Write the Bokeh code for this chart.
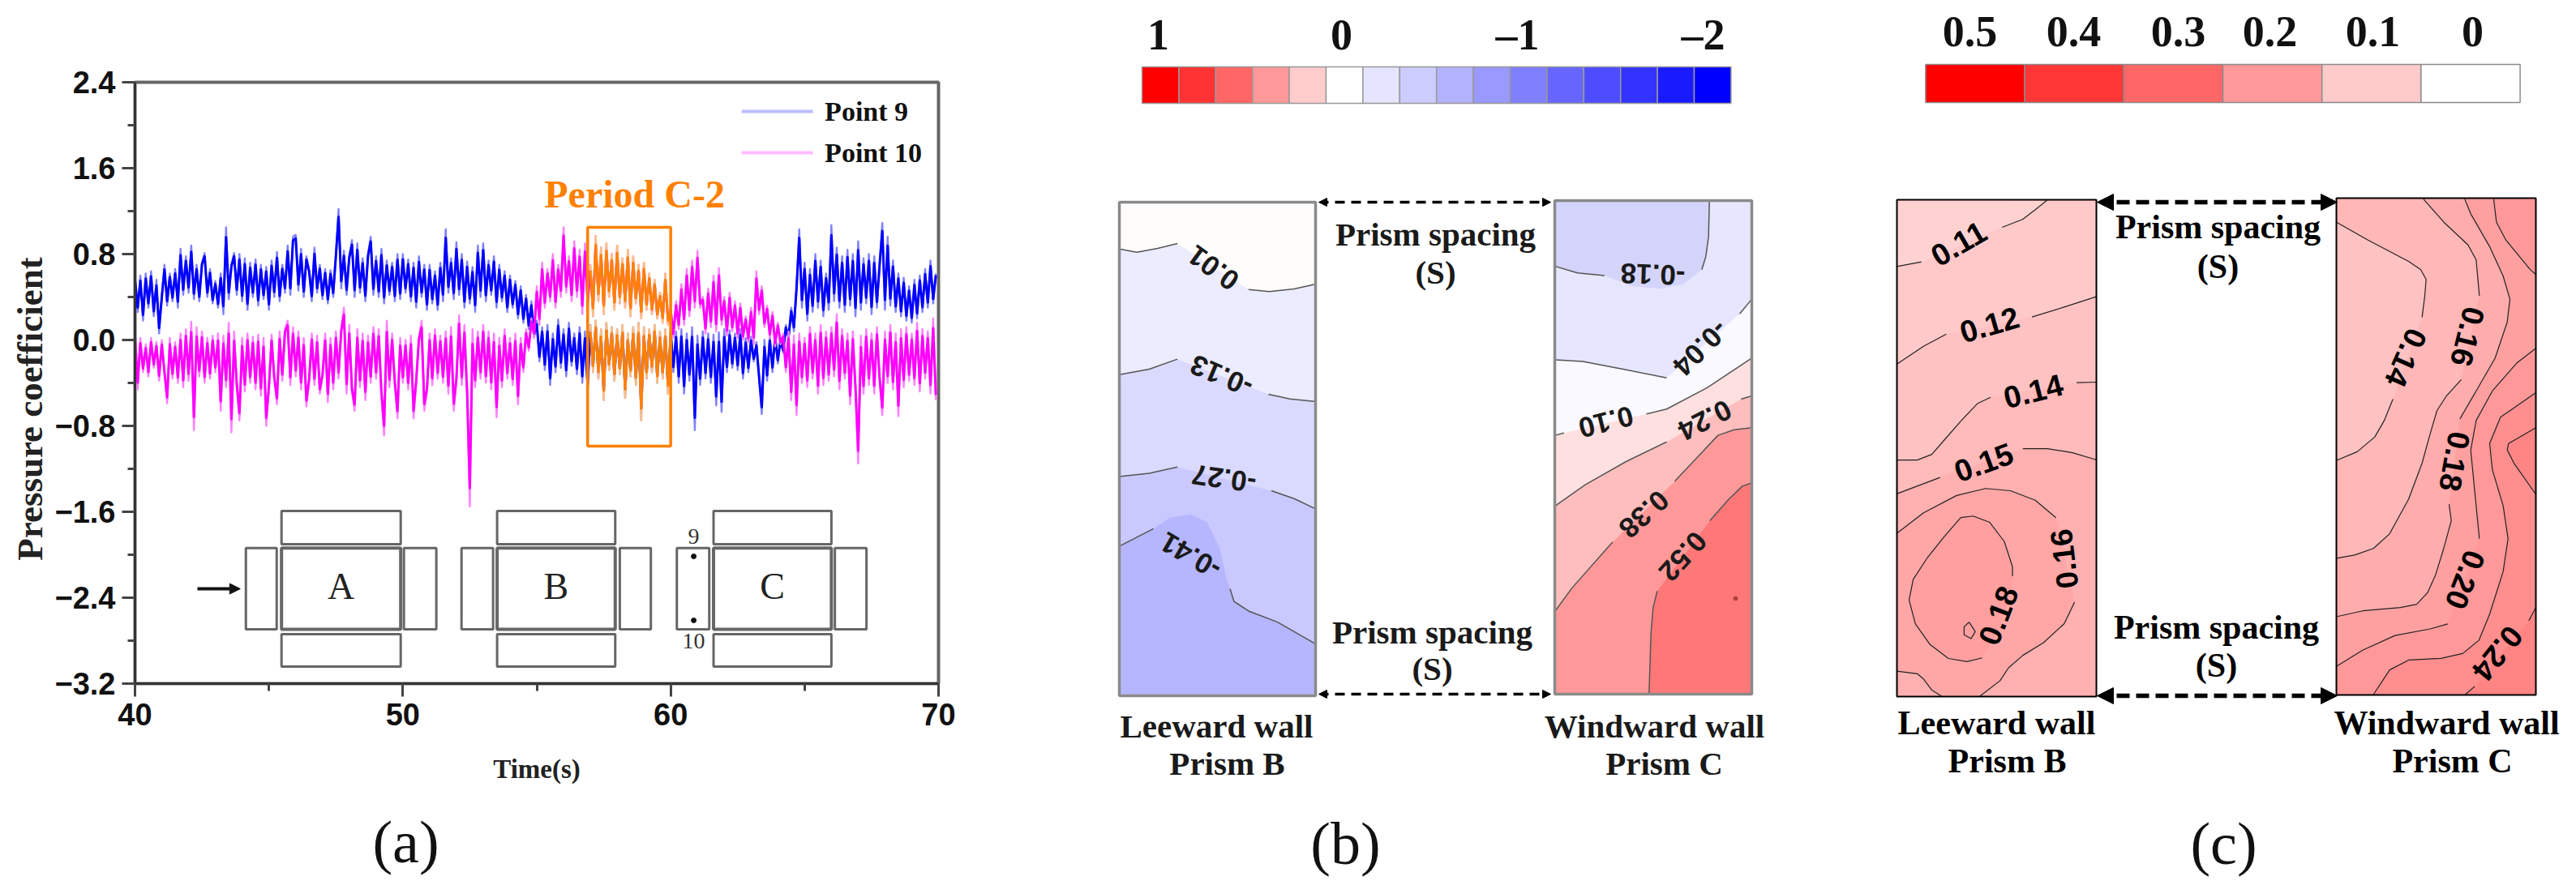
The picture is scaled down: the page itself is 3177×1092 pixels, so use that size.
from bokeh.plotting import figure
from bokeh.layouts import row, column
from bokeh.models import (Arrow, NormalHead, FixedTicker, Range1d)
from bokeh.core.properties import value
from bokeh.embed import file_html
from bokeh.resources import INLINE
import math

SERIF = "Liberation Serif"
SANS = "Liberation Sans"

# ------------------------- panel (a) data ----------------------------
point9 = [
 .58,.26,.60,.18,.62,.30,.64,.22,.56,.06,
 .40,.70,.32,.62,.36,.66,.30,.85,.42,.78,
 .44,.88,.38,.70,.36,.72,.81,.40,.66,.34,
 .55,.30,.62,.24,1.05,.38,.70,.81,.42,.80,
 .36,.76,.28,.72,.40,.75,.32,.70,.38,.68,
 .28,.74,.40,.82,.36,.70,.44,.88,.42,.96,
 .98,.46,.85,.40,.78,.65,.36,.86,.44,.70,
 .38,.66,.34,.65,.40,.78,1.22,.48,.83,.42,
 .78,.93,.40,.90,.44,.76,.36,.80,.96,.42,
 .78,.40,.85,.34,.74,.42,.72,.36,.80,.38,
 .80,.44,.75,.36,.72,.30,.78,.40,.70,.28,
 .70,.34,.64,.28,.72,.36,1.03,.44,.76,.38,
 .91,.42,.80,.30,.73,.34,.68,.26,.88,.40,
 .90,.36,.74,.42,.78,.30,.70,.36,.64,.26,
 .60,.30,.55,.20,.50,.16,.42,.10,.36,.02,
 .18,-.20,.12,-.28,.14,-.42,.06,-.30,.19,-.26,
 .10,-.34,.16,-.24,.06,-.32,.12,-.40,.08,-.49,
 .14,-.30,.18,-.36,.10,-.56,.16,-.28,.12,-.38,
 .10,-.32,.14,-.54,.06,-.34,.12,-.42,.16,-.75,
 .12,-.36,.10,-.30,.14,-.40,.08,-.36,.10,-.50,
 .12,-.30,.08,-.40,.10,-.50,.06,-.38,.12,-.84,
 .04,-.42,.08,-.36,.06,-.40,.05,-.61,.07,-.67,
 .10,-.30,.09,-.26,.06,-.28,.10,-.36,.02,-.30,
 .03,-.20,-.02,-.34,-.69,.00,-.38,.04,-.30,.06,
 -.22,.02,-.12,.14,.00,.30,.08,.48,1.03,.30,
 .72,.18,.66,.26,.80,.30,.74,.22,.62,.28,
 1.07,.36,.86,.30,.78,.26,.84,.32,.80,.22,
 .92,.28,.76,.34,.80,.24,.78,.30,.70,1.09,
 .28,.96,.32,.74,.26,.62,.22,.58,.18,.50,
 .16,.56,.20,.60,.26,.66,.30,.74,.34,.62,
]
point10 = [
 .06,-.46,.02,-.30,-.04,-.34,.02,-.26,-.02,-.38,
 .00,-.30,-.59,.02,-.36,-.02,-.40,.06,-.44,.10,
 -.38,.17,-.84,.12,-.34,.08,-.40,.02,-.36,.04,
 -.30,.06,-.66,.04,-.44,.16,-.86,.08,-.42,-.75,
 .02,-.48,.06,-.40,.03,-.46,.05,-.52,.02,-.80,
 -.44,.05,-.36,-.60,.08,-.38,.10,.18,-.42,.12,
 -.34,.08,-.46,.02,-.62,-.38,.06,-.42,.04,-.50,
 -.34,.06,-.58,.02,-.46,.08,-.36,.10,.30,-.50,
 .14,-.48,-.66,.10,-.44,.06,-.56,.04,-.40,.12,
 -.36,.10,-.50,-.89,.18,-.44,.06,-.40,-.73,.02,
 -.40,.00,-.46,.04,-.73,-.38,.02,.18,-.66,-.48,
 .06,-.42,.10,-.36,.04,-.40,.08,-.50,.12,-.66,
 -.38,.23,-.42,.14,-.46,-1.55,.10,-.44,.08,-.36,
 .14,-.40,.08,-.46,.06,-.72,.02,-.44,.10,-.36,
 .02,-.42,.06,-.60,.02,-.30,.10,-.10,.20,.02,
 .50,.14,.72,.30,.66,.36,.80,.30,.70,.40,
 1.05,.44,.78,.36,.92,.40,.84,.24,.90,.30,
 .70,.22,.97,.36,.86,.24,.90,.40,.80,.28,
 .88,.34,.76,.30,.84,.22,.78,.34,.70,.20,
 .72,.28,.62,.24,.56,.20,.44,.16,.62,.14,
 .30,.02,.36,.10,.52,.14,.66,.22,.74,.30,
 .83,.30,.40,.06,.48,.12,.60,.08,.67,.14,
 .40,.04,.44,.08,.36,.02,.34,.00,.22,-.02,
 .30,-.04,.64,.24,.50,.12,.32,.02,.26,-.06,
 .16,-.04,.06,-.30,.08,-.56,.04,-.70,.06,-.40,
 .02,-.44,.12,-.36,.06,-.50,.14,-.42,.08,-.38,
 .12,-.34,.24,-.46,.10,-.36,.06,-.60,.08,-.44,
 -1.15,.04,-.50,.10,-.42,.06,-.50,.12,-.36,-.70,
 .08,-.40,.14,-.46,.06,-.71,.10,-.44,.12,-.38,
 .06,-.42,.16,-.48,.10,-.36,.08,-.50,.20,-.56,
]
t_start = 40.0
t_step = 0.1
y_ticks = [2.4, 1.6, 0.8, 0.0, -0.8, -1.6, -2.4, -3.2]
y_tick_labels = ["2.4", "1.6", "0.8", "0.0", "\u22120.8", "\u22121.6", "\u22122.4", "\u22123.2"]
y_minor = [2.0, 1.2, 0.4, -0.4, -1.2, -2.0, -2.8]
x_ticks = [40, 50, 60, 70]
x_minor = [45, 55, 65]

period_box = (56.9, 60.0, -0.989, 1.049)

prisms = ["A", "B", "C"]
main_l = [45.47, 53.52, 61.60]
main_r = [49.92, 57.93, 66.00]
side1_l = [44.14, 52.19, 60.23]
side1_r = [45.29, 53.37, 61.44]
side2_l = [50.04, 58.10, 66.13]
side2_r = [51.25, 59.26, 67.31]

# ------------------------- colour bars -------------------------------
cb_b_colors = ["#ff0000","#ff3333","#ff6666","#ff9999","#ffcccc","#ffffff","#e5e5ff","#ccccff",
               "#b3b3ff","#9999ff","#8080ff","#6666ff","#4d4dff","#3333ff","#1a1aff","#0000ff"]
cb_b_labels = ["1", "0", "\u20131", "\u20132"]
cb_b_label_pos = [1428, 1654, 1871, 2100]
cb_c_colors = ["#ff0000","#ff3636","#ff6666","#ff9999","#ffcaca","#ffffff"]
cb_c_labels = ["0.5","0.4","0.3","0.2","0.1","0"]
cb_c_label_pos = [2429, 2557, 2686, 2799, 2926, 3049]

# ------------------------- contour traces --
def z4(p): return [(1320+x/1.96, y/3) for x, y in p]
def z5(p): return [(1320+x/1.96, 480+y/2.56) for x, y in p]
def z6(p): return [(2280+x/1.96, y/3) for x, y in p]
def z7(p): return [(2280+x/1.96, 480+y/2.56) for x, y in p]
def z11(p): return [(2870+x/3, 235+y/2.47) for x, y in p]
def z12(p): return [(1905+x/3, 235+y/2.47) for x, y in p]

wall_bl = (1380, 1622, 249, 858)
wall_bw = (1917, 2160, 247, 856)
wall_cl = (2339, 2585, 246, 859)
wall_cw = (2881, 3127, 244, 857)

bl_c1 = [z4([(118,920),(160,932),(210,918),(258,900)]), z4([(430,1070),(480,1078),(540,1068),(593,1050)])]
bl_c2 = [z4([(118,1385),(190,1365),(258,1328)]), z4([(478,1458),(530,1475),(593,1485)])]
bl_c3 = [z5([(118,275),(190,265),(258,245)]), z5([(485,320),(540,345),(593,378)])]
bl_c4 = [z5([(118,495),(200,440)]), z5([(385,630),(395,670),(430,700),(500,735),(593,805)])]
bl_c4_hidden = z5([(240,405),(290,395),(330,420),(360,500),(375,590)])

bw_c6 = [z12([(385,1530),(392,1350),(400,1270),(415,1220)]), z12([(610,1005),(680,940),(730,900),(765,890)])]
bw_c5 = [z12([(38,1280),(100,1210),(250,1070)]), z12([(480,885),(560,815),(640,745),(700,728),(765,722)])]
bw_c4 = [z12([(38,960),(150,895),(300,825),(450,765)]), z12([(725,635),(765,625)])]
bw_c3 = [z12([(38,745),(70,738)]), z12([(375,680),(450,665),(600,600),(765,510)])]
bw_c2 = [z12([(38,515),(140,520),(300,545),(450,570)]), z12([(720,375),(765,330)])]
bw_c1 = [z12([(38,230),(120,250),(220,258)]), z12([(580,240),(595,200),(605,140),(608,30)])]
bw_c1_hidden = z12([(320,290),(420,298),(510,285)])

cl_c1 = [z6([(115,985),(175,968)]), z6([(370,840),(420,810),(450,775),(478,740)])]
cl_c2 = [z6([(115,1347),(180,1280),(235,1235)]), z6([(442,1172),(520,1135),(597,1097)])]
cl_c3 = [z7([(115,223),(165,223),(200,205),(230,160),(270,100),(310,45),(342,25)]), z6([(550,1415),(597,1413)])]
cl_c4 = [z7([(115,330),(220,278)]), z7([(420,187),(480,187),(540,200),(597,222)])]
cl_c5 = [z7([(115,455),(180,390),(260,335),(330,313),(390,320),(450,350),(500,405)]),
         z7([(545,672),(520,740),(470,800),(420,840),(385,880),(365,920),(315,970)])]
cl_c5b = z7([(225,970),(200,950),(180,915),(165,898),(115,890)])
cl_c6 = [z7([(322,848),(285,860),(240,850),(195,805),(160,740),(145,665),(155,600),(190,530),
             (230,465),(270,405),(300,400),(340,420),(375,480),(395,560),(395,590)])]
cl_c6_hidden = z7([(390,650),(360,760)])
cl_dot = z7([(290,735),(305,765),(295,787),(278,775),(278,750),(290,735)])

cw_c1 = [z11([(32,95),(150,150),(300,215),(345,240),(365,270),(360,320),(350,385)]),
         z11([(242,635),(210,700),(175,750),(110,795),(32,822)])]
cw_c2 = [z11([(355,25),(430,95),(520,165),(550,210),(562,320)]),
         z11([(495,575),(440,625),(405,670),(380,740),(350,830),(300,940),(230,1045),(170,1090),(100,1110),(32,1120)])]
cw_c3 = [z11([(508,25),(530,70),(600,170),(650,260),(675,330),(665,400),(620,510),(550,610),(490,695)]),
         z11([(450,955),(458,1005),(430,1090),(400,1170),(370,1225),(330,1260),(270,1270),(130,1280),(32,1298)])]
cw_c4a = z11([(615,25),(625,95),(660,150),(750,240),(771,255)])
cw_c4 = [z11([(771,480),(700,525),(610,610),(550,700),(530,790),(550,960),(562,1060)]),
         z11([(445,1320),(380,1335),(250,1355),(130,1400),(32,1450)])]
cw_c5 = [z11([(771,615),(640,690),(600,770),(610,850),(650,960),(668,1060),(650,1160),(600,1290),
              (560,1370),(500,1410),(420,1425),(300,1430),(230,1460),(170,1535)])]
cw_c6 = [z11([(771,722),(670,770),(665,790),(690,830),(771,925)])]
cw_c7 = [z11([(510,1535),(545,1510)]), z11([(745,1310),(771,1270)])]

labels_b = [
 ("0.01",1496,330,144),("-0.13",1506,463,157),("-0.27",1509,590,172),("-0.41",1468,685,150),
 ("-0.18",2038,338,178),("-0.04",2097,429,225),("0.10",1980,520,194),("0.24",2102,518,207),
 ("0.38",2027,634,222),("0.52",2075,686,228),
]
labels_c = [
 ("0.11",2415,300,30),("0.12",2453,400,16),("0.14",2507,482,14),("0.15",2446,570,20),
 ("0.16",2545,689,97),("0.18",2464,759,69),
 ("0.14",2967,441,246),("0.16",3043,415,256),("0.18",3027,569,260),("0.20",3040,715,249),("0.24",3080,806,231),
]

# ------------------------- layout ------------------------------------
FIG_H = 1090
PA_H = 980         # the plot itself; the strip below it carries the panel tag
PL_W = 64          # narrow strip that holds the rotated y title
PA_W = 1278 - PL_W
FR_TOP, FR_BOT, FR_LEFT, FR_RIGHT = 101, 843, 165, 1157

pl = figure(width=PL_W, height=FIG_H, output_backend="svg", toolbar_location=None,
            x_range=Range1d(0, PL_W), y_range=Range1d(FIG_H, 0), min_border=0,
            outline_line_color=None, frame_align=False)
pl.axis.visible = False
pl.grid.visible = False
pl.text([36], [504], ["Pressure coefficient"], angle=math.pi/2, text_font=value(SERIF), text_font_style="bold",
        text_font_size="45px", text_color="#222222", text_align="center", text_baseline="middle")

pa = figure(width=PA_W, height=PA_H, output_backend="svg", toolbar_location=None,
            x_range=Range1d(40, 70), y_range=Range1d(-3.2, 2.4), frame_align=False,
            min_border_left=FR_LEFT-PL_W, min_border_right=1278-FR_RIGHT, min_border_top=FR_TOP,
            min_border_bottom=PA_H-FR_BOT, background_fill_color="white", border_fill_color="white")
pa.grid.visible = False
pa.outline_line_color = "#666666"
pa.outline_line_width = 4

for ax, major, minor in ((pa.xaxis[0], x_ticks, x_minor), (pa.yaxis[0], y_ticks, y_minor)):
    ax.ticker = FixedTicker(ticks=major, minor_ticks=minor)
    ax.major_tick_line_color = "#444444"
    ax.minor_tick_line_color = "#444444"
    ax.major_tick_line_width = 3
    ax.minor_tick_line_width = 3
    ax.major_tick_out = 16
    ax.major_tick_in = 0
    ax.minor_tick_out = 9
    ax.minor_tick_in = 0
    ax.axis_line_color = "#333333"
    ax.axis_line_width = 3
    ax.major_label_text_font = SANS
    ax.major_label_text_font_style = "bold"
    ax.major_label_text_font_size = "38px"
    ax.major_label_text_color = "#111111"
    ax.major_label_standoff = 8
pa.yaxis[0].major_label_overrides = dict(zip(y_ticks, y_tick_labels))
pa.xaxis[0].axis_label = "Time(s)"
pa.xaxis[0].axis_label_text_font = SERIF
pa.xaxis[0].axis_label_text_font_style = "bold"
pa.xaxis[0].axis_label_text_font_size = "33px"
pa.xaxis[0].axis_label_text_color = "#222222"
pa.xaxis[0].axis_label_standoff = 33

tag = figure(width=PA_W, height=FIG_H-PA_H, output_backend="svg", toolbar_location=None,
             x_range=Range1d(PL_W, 1278), y_range=Range1d(FIG_H, PA_H), min_border=0,
             outline_line_color=None, frame_align=False)
tag.axis.visible = False
tag.grid.visible = False
tag.text([500], [1038], ["(a)"], text_font=value(SERIF), text_font_size="74px", text_color="#111111",
         text_align="center", text_baseline="middle")

# signal traces: a lighter full-swing pass under a denser core drawn from the same readings
tt = [t_start + t_step*i for i in range(len(point9))]

def core(v):
    out = []
    for i, y in enumerate(v):
        a = v[max(i-1, 0)]
        b = v[min(i+1, len(v)-1)]
        m = (a + 2*y + b)/4
        out.append(m + 0.75*(y-m))
    return out

core9 = core(point9)
core10 = core(point10)
i0 = int(round((period_box[0]-t_start)/t_step)) + 1
i1 = int(round((period_box[1]-t_start)/t_step))

def trace(x, y, yc, light, dark):
    pa.line(x, y, line_color=light, line_width=2.4, line_join="round")
    pa.line(x, yc, line_color=dark, line_width=3.0, line_join="round")

trace(tt, point9, core9, "#8080ff", "#0000ff")
trace(tt, point10, core10, "#ff80ff", "#ff00ff")
trace(tt[i0:i1+1], point9[i0:i1+1], core9[i0:i1+1], "#ffbf80", "#ff8000")
trace(tt[i0:i1+1], point10[i0:i1+1], core10[i0:i1+1], "#ffbf80", "#ff8000")

pa.quad(left=[period_box[0]], right=[period_box[1]], bottom=[period_box[2]], top=[period_box[3]],
        fill_color=None, line_color="#ff8000", line_width=3.5)
pa.text([58.65], [1.362], ["Period C-2"], text_font=value(SERIF), text_font_style="bold",
        text_font_size="48px", text_color="#ff8000", text_align="center", text_baseline="middle")

pa.line([62.65, 65.31], [2.128, 2.128], line_color="#bcbcff", line_width=4)
pa.line([62.65, 65.31], [1.743, 1.743], line_color="#ffbcff", line_width=4)
pa.text([65.75, 65.75], [2.128, 1.743], ["Point 9", "Point 10"], text_font=value(SERIF), text_font_style="bold",
        text_font_size="34px", text_color="#111111", text_align="left", text_baseline="middle")

sk_top, sk_bot = -1.937, -2.694
up_top, up_bot = -1.592, -1.902
lo_top, lo_bot = -2.740, -3.042
sk = dict(fill_color=None, line_color="#666666", line_width=3)
n = len(prisms)
pa.quad(left=main_l, right=main_r, top=[sk_top]*n, bottom=[sk_bot]*n, **{**sk, "line_width":4})
pa.quad(left=side1_l, right=side1_r, top=[sk_top]*n, bottom=[sk_bot]*n, **sk)
pa.quad(left=side2_l, right=side2_r, top=[sk_top]*n, bottom=[sk_bot]*n, **sk)
pa.quad(left=main_l, right=main_r, top=[up_top]*n, bottom=[up_bot]*n, **sk)
pa.quad(left=main_l, right=main_r, top=[lo_top]*n, bottom=[lo_bot]*n, **sk)
pa.text([(a+b)/2 for a, b in zip(main_l, main_r)], [-2.294]*n, prisms, text_font=value(SERIF),
        text_font_size="46px", text_color="#222222", text_align="center", text_baseline="middle")
pa.scatter([60.86, 60.86], [-2.015, -2.611], size=6, color="#111111")
pa.text([60.86, 60.86], [-1.83, -2.80], ["9", "10"], text_font=value(SERIF), text_font_size="28px",
        text_color="#333333", text_align="center", text_baseline="middle")
pa.add_layout(Arrow(end=NormalHead(size=13, fill_color="#111111", line_color="#111111"),
                    x_start=42.33, x_end=43.93, y_start=-2.317, y_end=-2.317,
                    line_color="#111111", line_width=4))

# ------------------------- panels (b) and (c) ------------------------
pb = figure(width=1890, height=FIG_H, output_backend="svg", toolbar_location=None,
            x_range=Range1d(1278, 3168), y_range=Range1d(FIG_H, 0), frame_align=False,
            min_border=0, outline_line_color=None, background_fill_color="white", border_fill_color="white")
pb.axis.visible = False
pb.grid.visible = False

def flat(segs, extra_between=None):
    pts = []
    for i, s in enumerate(segs):
        pts += s
        if extra_between and i == 0:
            pts += extra_between
    return pts

def fill(pts, color):
    pb.patch([p[0] for p in pts], [p[1] for p in pts], fill_color=color, line_color=None)

def strokes(segs, width, color):
    for s in segs:
        pb.line([p[0] for p in s], [p[1] for p in s], line_color=color, line_width=width, line_join="round")

def base(wall, color):
    l, r, t, b = wall
    pb.quad(left=[l], right=[r], top=[t], bottom=[b], fill_color=color, line_color=None)

def frame(wall, color, width):
    l, r, t, b = wall
    pb.quad(left=[l], right=[r], top=[t], bottom=[b], fill_color=None, line_color=color, line_width=width)

def colorbar(colors, left, step, top, bottom, line, lw):
    m = len(colors)
    pb.quad(left=[left+i*step for i in range(m)], right=[left+(i+1)*step for i in range(m)],
            top=[top]*m, bottom=[bottom]*m, fill_color=colors, line_color=line, line_width=lw)

def word(x, y, s, size, bold=True, font=SERIF, angle=0, color="#111111"):
    pb.text([x], [y], [s], text_font=value(font), text_font_style="bold" if bold else "normal",
            text_font_size=size, text_color=color, text_align="center", text_baseline="middle",
            angle=math.radians(angle))

colorbar(cb_b_colors, 1408, 45.4, 82, 127, "#999999", 1.5)
colorbar(cb_c_colors, 2374.4, 122.2, 79, 126, "#8a8a8a", 1.5)
for x, s in zip(cb_b_label_pos, cb_b_labels):
    word(x, 42, s, "54px")
for x, s in zip(cb_c_label_pos, cb_c_labels):
    word(x, 38, s, "54px")

l, r, t, b_ = wall_bl
base(wall_bl, "#b6b6ff")
fill(flat(bl_c4, bl_c4_hidden) + [(r, t), (l, t)], "#c9c9ff")
fill(flat(bl_c3) + [(r, t), (l, t)], "#dadaff")
fill(flat(bl_c2) + [(r, t), (l, t)], "#ececff")
fill(flat(bl_c1) + [(r, t), (l, t)], "#fefdfb")
for c in (bl_c1, bl_c2, bl_c3, bl_c4):
    strokes(c, 1.5, "#555555")
frame(wall_bl, "#8a8a8a", 3.5)

l, r, t, b_ = wall_bw
base(wall_bw, "#ff7878")
fill(flat(bw_c6) + [(r, t), (l, t), (l, b_)], "#ff9999")
fill(flat(bw_c5) + [(r, t), (l, t)], "#ffbebe")
fill(flat(bw_c4) + [(r, t), (l, t)], "#ffe0e0")
fill(flat(bw_c3) + [(r, t), (l, t)], "#f9f9ff")
fill(flat(bw_c2) + [(r, t), (l, t)], "#e6e6ff")
fill(flat(bw_c1, bw_c1_hidden) + [(l, t)], "#d4d4fb")
for c in (bw_c1, bw_c2, bw_c3, bw_c4, bw_c5, bw_c6):
    strokes(c, 1.5, "#555555")
frame(wall_bw, "#8a8a8a", 3.5)
pb.scatter([2140], [738], size=5, color="#b04040", marker="circle")

l, r, t, b_ = wall_cl
base(wall_cl, "#ffb0b0")
fill(flat(cl_c4) + [(r, t), (l, t)], "#ffbaba")
fill(flat(cl_c3) + [(r, t), (l, t)], "#ffc2c2")
fill(flat(cl_c2) + [(r, t), (l, t)], "#ffc9c9")
fill(flat(cl_c1) + [(l, t)], "#ffd2d2")
fill(flat(cl_c5) + cl_c5b, "#ffa7a7")
fill(flat(cl_c6) + cl_c6_hidden, "#ff9f9f")
for c in (cl_c1, cl_c2, cl_c3, cl_c4, cl_c5, [cl_c5b], cl_c6, [cl_dot]):
    strokes(c, 1.2, "#222222")
frame(wall_cl, "#000000", 2)

l, r, t, b_ = wall_cw
base(wall_cw, "#ff8e8e")
fill(flat(cw_c5) + [(l, b_), (l, t), (r, t)], "#ff9999")
fill(cw_c4a + flat(cw_c4) + [(l, t)], "#ffa0a0")
fill(flat(cw_c3) + [(l, t)], "#ffacac")
fill(flat(cw_c2) + [(l, t)], "#ffb7b7")
fill(flat(cw_c1), "#ffc2c2")
fill(flat(cw_c6), "#ff8585")
fill(flat(cw_c7) + [(r, b_)], "#ff8585")
for c in (cw_c1, cw_c2, cw_c3, [cw_c4a], cw_c4, cw_c5, cw_c6, cw_c7):
    strokes(c, 1.2, "#222222")
frame(wall_cw, "#000000", 2)

for s, x, y, a in labels_b:
    word(x, y, s, "35px", True, SANS, a, "#1a1a1a")
for s, x, y, a in labels_c:
    word(x, y, s, "38px", True, SANS, a, "#000000")

def spacing(x0, x1, y, lw, dash, head):
    pb.add_layout(Arrow(start=NormalHead(size=head, fill_color="black", line_color="black"),
                        end=NormalHead(size=head, fill_color="black", line_color="black"),
                        x_start=x0, x_end=x1, y_start=y, y_end=y, line_color="black",
                        line_width=lw, line_dash=dash))

spacing(1626, 1912, 249, 3.5, "12 8", 10)
spacing(1626, 1912, 856, 3.5, "12 8", 10)
spacing(2586, 2882, 249, 5.5, "16 8", 20)
spacing(2586, 2882, 858, 5.5, "16 8", 20)

for x, y, s in ((1770,288,"Prism spacing"),(1770,335,"(S)"),(1766,779,"Prism spacing"),(1766,824,"(S)"),
                (1500,895,"Leeward wall"),(1513,941,"Prism B"),(2040,895,"Windward wall"),(2052,941,"Prism C")):
    word(x, y, s, "41px", True, SERIF, 0, "#1a1a1a")
for x, y, s in ((2735,279,"Prism spacing"),(2735,328,"(S)"),(2733,773,"Prism spacing"),(2733,820,"(S)"),
                (2462,891,"Leeward wall"),(2475,938,"Prism B"),(3017,891,"Windward wall"),(3024,938,"Prism C")):
    word(x, y, s, "42px", True, SERIF, 0, "#000000")
word(1659, 1040, "(b)", "74px", False)
word(2742, 1040, "(c)", "74px", False)

page = row(pl, column(pa, tag, spacing=0), pb, spacing=0)
open("out.html", "w").write(file_html(page, INLINE))
